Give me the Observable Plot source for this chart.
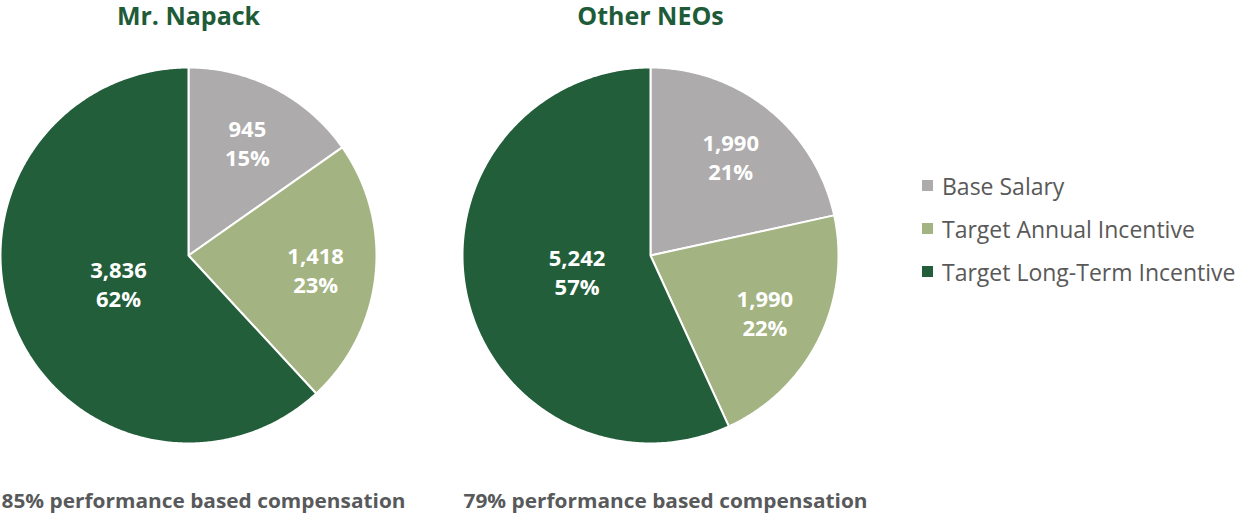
<!DOCTYPE html>
<html>
<head>
<meta charset="utf-8">
<script src="https://cdn.jsdelivr.net/npm/d3@7"></script>
<script src="https://cdn.jsdelivr.net/npm/@observablehq/plot@0.6"></script>
<style>
  html, body { margin: 0; padding: 0; background: #fff; }
  #wrap { position: relative; width: 1238px; height: 516px; font-family: "Open Sans", sans-serif; }
  #chart { position: absolute; left: 0; top: 0; }
  #legend { position: absolute; left: 922px; top: 164px; }
  .lg-row { display: flex; align-items: center; height: 43px; font-size: 23px; color: #595959; white-space: nowrap; }
  .lg-sw { width: 11px; height: 11px; margin-right: 9px; flex: none; }
</style>
</head>
<body>
<div id="wrap">
  <div id="chart"></div>
  <div id="legend"></div>
</div>
<script>
const groups = ["Mr. Napack", "Other NEOs"];
const categories = ["Base Salary", "Target Annual Incentive", "Target Long-Term Incentive"];
const napackValues = [945, 1418, 3836];
const neoValues = [1990, 1990, 5242];
const napackPct = ["15%", "23%", "62%"];
const neoPct = ["21%", "22%", "57%"];
const captions = ["85% performance based compensation", "79% performance based compensation"];
const colors = ["#ADABAC", "#A3B381", "#235E3B"];

const valuesByGroup = [napackValues, neoValues];
const pctByGroup = [napackPct, neoPct];

const polyPoints = [];
const labels = [];
groups.forEach((g, gi) => {
  const rows = categories.map((c, i) => ({category: c, value: valuesByGroup[gi][i], pct: pctByGroup[gi][i]}));
  const total = d3.sum(rows, d => d.value);
  const arcs = d3.pie().sort(null).value(d => d.value)(rows);
  arcs.forEach(a => {
    const key = g + "|" + a.data.category;
    polyPoints.push({group: g, key, category: a.data.category, x: 0, y: 0});
    const n = Math.max(2, Math.ceil((a.endAngle - a.startAngle) / (Math.PI / 360)));
    for (let k = 0; k <= n; k++) {
      const t = a.startAngle + (a.endAngle - a.startAngle) * k / n;
      polyPoints.push({group: g, key, category: a.data.category, x: Math.sin(t), y: Math.cos(t)});
    }
    polyPoints.push({group: g, key, category: a.data.category, x: 0, y: 0});
    const mid = (a.startAngle + a.endAngle) / 2;
    const share = a.data.value / total;
    const r = share > 0.5 ? 0.4 : 0.68;
    labels.push({group: g, x: r * Math.sin(mid), y: r * Math.cos(mid),
      text: d3.format(",")(a.data.value) + "\n" + a.data.pct});
  });
});

const captionRows = groups.map((g, i) => ({group: g, text: captions[i]}));

const R = 188;
const W = 924, H = 516;
const cx = 188, cy = 255;

const plot = Plot.plot({
  width: W,
  height: H,
  margin: 0,
  style: {fontFamily: "Open Sans, sans-serif", overflow: "visible"},
  fx: {domain: groups, axis: null, padding: 0},
  x: {domain: [-cx / R, (W / 2 - cx) / R], axis: null},
  y: {domain: [-(H - cy) / R, cy / R], axis: null},
  color: {domain: categories, range: colors},
  marks: [
    Plot.line(polyPoints, {fx: "group", x: "x", y: "y", z: "key", fill: "category",
      stroke: "white", strokeWidth: 2, strokeLinejoin: "round", curve: "linear"}),
    Plot.text(labels, {fx: "group", x: "x", y: "y", text: "text", fill: "white",
      fontWeight: "bold", fontSize: 22, lineHeight: 1.32}),
    Plot.text(groups, {fx: d => d, x: () => 0, text: d => d, frameAnchor: "top", lineAnchor: "middle", dy: 16,
      fontSize: 25, fontWeight: "bold", fill: "#1E5B38"}),
    Plot.text(captionRows, {fx: "group", text: "text", frameAnchor: "bottom-left", textAnchor: "start",
      lineAnchor: "middle", dx: 1, dy: -15, fontSize: 20, fontWeight: "bold", fill: "#58595B"})
  ]
});
document.getElementById("chart").appendChild(plot);

d3.select(plot).selectAll("text")
  .filter(function() { return captions.includes(this.textContent); })
  .attr("textLength", 404)
  .attr("lengthAdjust", "spacingAndGlyphs");

const legend = d3.select("#legend");
categories.forEach((c, i) => {
  const row = legend.append("div").attr("class", "lg-row");
  row.append("div").attr("class", "lg-sw").style("background", colors[i]);
  row.append("span").text(c);
});
</script>
</body>
</html>
